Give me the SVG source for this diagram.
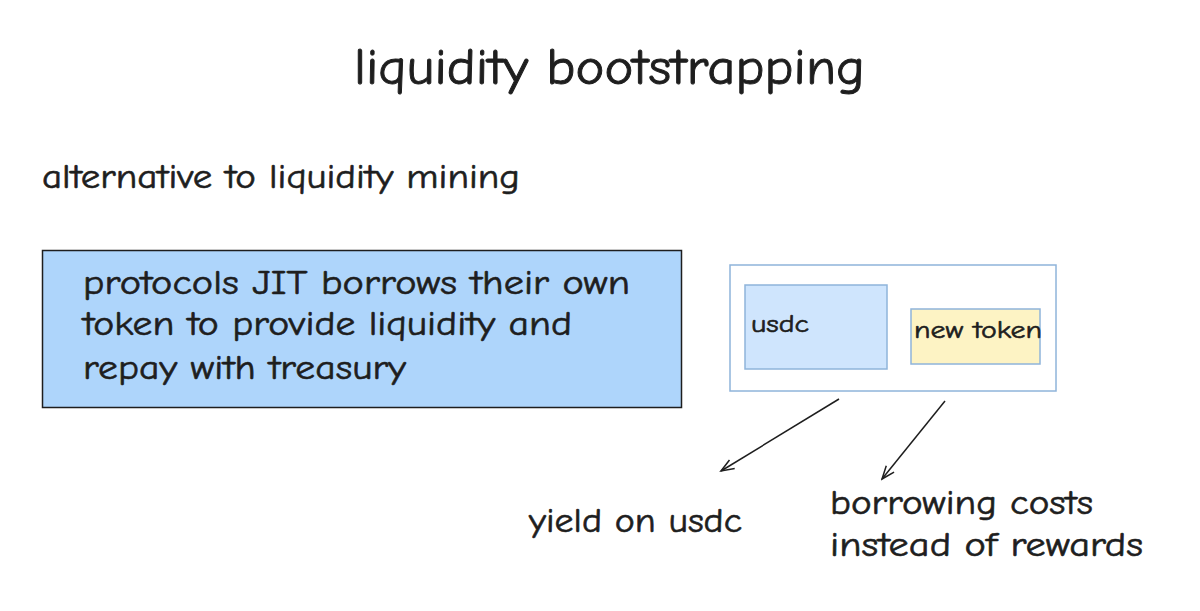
<svg xmlns="http://www.w3.org/2000/svg" width="1200" height="611" viewBox="0 0 1200 611">
<defs>
<style>
text{font-family:"Comic Neue","Lato","DejaVu Sans",sans-serif;fill:#1e1e1e;stroke:#1e1e1e;stroke-width:.6}
.c{fill:none;stroke:#1e1e1e;stroke-width:1.5}
.b{stroke:#8fb4da;stroke-width:1.5}
</style>
<marker id="a" markerWidth="16" markerHeight="12" refX="14" refY="6" orient="auto" markerUnits="userSpaceOnUse"><path d="M1 1L14 6L1 11" fill="none" stroke="#1e1e1e" stroke-width="1.5"/></marker>
</defs>
<rect width="1200" height="611" fill="#fff"/>
<g id="title"><text x="354" y="84" font-size="50" textLength="511" lengthAdjust="spacingAndGlyphs" style="stroke-width:.9">liquidity bootstrapping</text></g>
<g id="subtitle"><text x="42" y="188" font-size="34" textLength="478" lengthAdjust="spacingAndGlyphs">alternative to liquidity mining</text></g>
<g id="protocols">
<rect x="42.500" y="250.500" width="639" height="157" fill="#aed5fb" stroke="#1e1e1e" stroke-width="1.5"/>
<text x="83" y="294" font-size="34" textLength="547" lengthAdjust="spacingAndGlyphs">protocols JIT borrows their own</text>
<text x="83" y="335" font-size="34" textLength="489" lengthAdjust="spacingAndGlyphs">token to provide liquidity and</text>
<text x="83" y="379" font-size="34" textLength="323" lengthAdjust="spacingAndGlyphs">repay with treasury</text>
</g>
<g id="pool"><rect x="730" y="265" width="326" height="126" fill="#fff" class="b"/></g>
<g id="usdc"><rect x="745" y="285" width="142" height="84" fill="#cfe5fd" class="b"/><text x="751" y="332" font-size="25" textLength="58" lengthAdjust="spacingAndGlyphs">usdc</text></g>
<g id="new-token"><rect x="911" y="309" width="129" height="55" fill="#fdf3c4" class="b"/><text x="914" y="338" font-size="25" textLength="128" lengthAdjust="spacingAndGlyphs">new token</text></g>
<g id="connectors">
<path class="c" d="M839 399L721 471" marker-end="url(#a)"/>
<path class="c" d="M945 401L882 479" marker-end="url(#a)"/>
</g>
<g id="yield"><text x="529" y="532" font-size="34" textLength="213" lengthAdjust="spacingAndGlyphs">yield on usdc</text></g>
<g id="borrowing">
<text x="830" y="514" font-size="34" textLength="263" lengthAdjust="spacingAndGlyphs">borrowing costs</text>
<text x="830" y="556" font-size="34" textLength="313" lengthAdjust="spacingAndGlyphs">instead of rewards</text>
</g>
</svg>
